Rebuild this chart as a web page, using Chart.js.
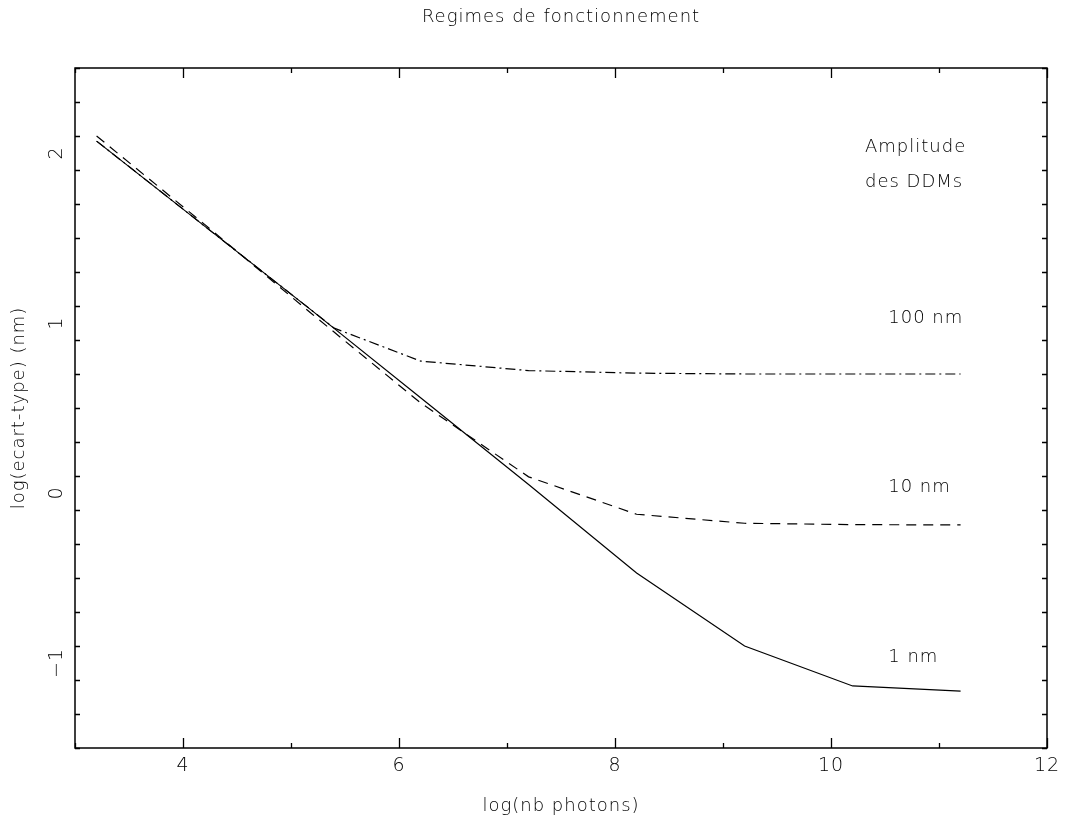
<!DOCTYPE html>
<html>
<head>
<meta charset="utf-8">
<title>Regimes de fonctionnement</title>
<script src="https://cdn.jsdelivr.net/npm/chart.js@4/dist/chart.umd.min.js"></script>
<style>
  html, body { margin: 0; padding: 0; background: #fff; }
  canvas { display: block; }
</style>
</head>
<body>
<canvas id="c" width="1065" height="825"></canvas>
<script>
// log(nb photons) sampling for each curve
const photons = [3.2, 4.2, 5.2, 6.2, 7.2, 8.2, 9.2, 10.2, 11.2];
const photons100 = [3.2, 4.2, 5.4, 6.2, 7.2, 8.2, 9.2, 10.2, 11.2];

// log(ecart-type) in nm, one curve per DDM amplitude
const sigma1nm   = [2.07, 1.57, 1.07, 0.56, 0.05, -0.47, -0.90, -1.135, -1.165];
const sigma10nm  = [2.10, 1.58, 1.05, 0.53, 0.095, -0.125, -0.178, -0.186, -0.188];
const sigma100nm = [2.07, 1.57, 0.97, 0.776, 0.72, 0.705, 0.70, 0.70, 0.70];

// axis tick labels
const xTickLabels = [4, 6, 8, 10, 12];
const yTickLabels = [-1, 0, 1, 2];

// curve captions (text, and where it sits in data units)
const captions = [
  { text: 'Amplitude', x: 10.315, y: 2.035 },
  { text: 'des DDMs',  x: 10.315, y: 1.829 },
  { text: '100 nm',    x: 10.53,  y: 1.03 },
  { text: '10 nm',     x: 10.53,  y: 0.035 },
  { text: '1 nm',      x: 10.53,  y: -0.965 }
];

const FONT = 'DejaVu Sans';
const WEIGHT = '200';
const INK = '#000';

function pts(xs, ys) { return xs.map((x, i) => ({ x: x, y: ys[i] })); }

function range(a, b, step) {
  const out = [];
  const n = Math.round((b - a) / step);
  for (let i = 0; i <= n; i++) out.push(+(a + i * step).toFixed(6));
  return out;
}

// frame, inward ticks on all four sides, tick labels and captions
const framePlugin = {
  id: 'frame',
  beforeDraw(chart) {
    chart.ctx.letterSpacing = '1px';
  },
  afterDraw(chart) {
    const ctx = chart.ctx;
    const xs = chart.scales.x, ys = chart.scales.y;
    const a = chart.chartArea;
    ctx.save();
    ctx.letterSpacing = '1px';
    ctx.strokeStyle = INK;
    ctx.lineWidth = 1.5;
    ctx.strokeRect(a.left, a.top, a.right - a.left, a.bottom - a.top);

    ctx.lineWidth = 1.3;
    ctx.beginPath();
    // x ticks: major every 2, minor every 1
    range(xs.min, xs.max, 1).forEach(v => {
      const px = Math.round(xs.getPixelForValue(v)) + 0.5;
      const len = xTickLabels.includes(v) ? 10 : 5;
      ctx.moveTo(px, a.bottom); ctx.lineTo(px, a.bottom - len);
      ctx.moveTo(px, a.top); ctx.lineTo(px, a.top + len);
    });
    // y ticks: major every 1, minor every 0.2
    range(ys.min, ys.max, 0.2).forEach(v => {
      const py = Math.round(ys.getPixelForValue(v)) + 0.5;
      const len = Math.abs(v - Math.round(v)) < 1e-6 ? 10 : 5;
      ctx.moveTo(a.left, py); ctx.lineTo(a.left + len, py);
      ctx.moveTo(a.right, py); ctx.lineTo(a.right - len, py);
    });
    ctx.stroke();

    ctx.fillStyle = INK;
    ctx.font = WEIGHT + ' 19px "' + FONT + '"';
    ctx.textAlign = 'center';
    ctx.textBaseline = 'middle';
    xTickLabels.forEach(v => {
      ctx.fillText(String(v), xs.getPixelForValue(v), a.bottom + 18);
    });
    yTickLabels.forEach(v => {
      ctx.save();
      ctx.translate(a.left - 18, ys.getPixelForValue(v));
      ctx.rotate(-Math.PI / 2);
      ctx.fillText(v < 0 ? '\u2212' + Math.abs(v) : String(v), 0, 0);
      ctx.restore();
    });

    ctx.font = WEIGHT + ' 18px "' + FONT + '"';
    ctx.textAlign = 'left';
    captions.forEach(c => {
      ctx.fillText(c.text, xs.getPixelForValue(c.x), ys.getPixelForValue(c.y));
    });
    ctx.restore();
  }
};

const lineStyle = {
  borderColor: INK,
  borderWidth: 1.2,
  pointRadius: 0,
  fill: false,
  tension: 0
};

const textFont = { family: FONT, size: 18, weight: WEIGHT };

new Chart(document.getElementById('c'), {
  type: 'line',
  data: {
    datasets: [
      Object.assign({ label: '1 nm', data: pts(photons, sigma1nm) }, lineStyle),
      Object.assign({ label: '10 nm', data: pts(photons, sigma10nm), borderDash: [10, 7] }, lineStyle),
      Object.assign({ label: '100 nm', data: pts(photons100, sigma100nm), borderDash: [10, 4, 2, 4] }, lineStyle)
    ]
  },
  options: {
    responsive: false,
    animation: false,
    devicePixelRatio: 1,
    layout: { padding: { left: 0, right: 18, top: 0, bottom: 0 } },
    plugins: {
      legend: { display: false },
      tooltip: { enabled: false },
      title: {
        display: true,
        text: 'Regimes de fonctionnement',
        fullSize: false,
        color: INK,
        font: textFont,
        padding: { top: 7, bottom: 39.4 }
      }
    },
    scales: {
      x: {
        type: 'linear',
        min: 3,
        max: 12,
        grid: { display: false, drawTicks: false },
        border: { display: false },
        ticks: { display: false },
        title: {
          display: true,
          text: 'log(nb photons)',
          color: INK,
          font: textFont,
          padding: { top: 0, bottom: 8 }
        },
        afterFit(s) { s.height = 77; }
      },
      y: {
        type: 'linear',
        min: -1.5,
        max: 2.5,
        grid: { display: false, drawTicks: false },
        border: { display: false },
        ticks: { display: false },
        title: {
          display: true,
          text: 'log(ecart-type) (nm)',
          color: INK,
          font: textFont,
          padding: { top: 9, bottom: 0 }
        },
        afterFit(s) { s.width = 75; }
      }
    }
  },
  plugins: [framePlugin]
});
</script>
</body>
</html>
